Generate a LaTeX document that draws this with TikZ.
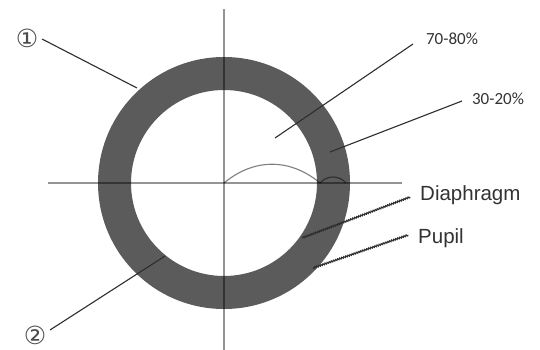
\documentclass[tikz,border=0pt]{standalone}
\usepackage{fontspec}
\setmainfont{Liberation Sans}
\newfontfamily\symfont{DejaVu Sans}
\newfontfamily\pctfont{Carlito}
\usetikzlibrary{decorations.pathmorphing}
\definecolor{ringc}{HTML}{5B5B5B}
\definecolor{leadc}{HTML}{2E2E2E}
\begin{document}
\begin{tikzpicture}[x=1pt,y=-1pt,
  axis/.style={line width=1.6pt, black, draw opacity=0.42},
  arcline/.style={line width=1.1pt, black, draw opacity=0.5},
  leader/.style={line width=1.1pt, leadc},
  wavy/.style={line width=1.1pt, leadc, decorate, decoration={snake, amplitude=0.7pt, segment length=2.2pt}},
  num/.style={font=\symfont\fontsize{25}{25}\selectfont, text=black!70, inner sep=0pt},
  pct/.style={font=\pctfont\fontsize{17}{17}\selectfont, text=black!80, inner sep=0pt},
  lab/.style={font=\fontsize{20.5}{20.5}\selectfont, text=black!80, inner sep=0pt, anchor=west}]
\useasboundingbox (0,0) rectangle (540,350);
\fill[white] (0,0) rectangle (540,350);
% ring
\coordinate (c) at (224,183);
\fill[ringc, even odd rule] (c) circle[radius=126] (c) circle[radius=93];
% axes
\coordinate (vtop) at (224,9);
\coordinate (vbot) at (224,350);
\coordinate (hl) at (48,183);
\coordinate (hr) at (402,183);
\draw[axis] (vtop) -- (vbot);
\draw[axis] (hl) -- (hr);
% arcs
\coordinate (a1) at (320,183);
\coordinate (a2) at (346,183);
\draw[arcline] (c) .. controls (254,158) and (290,158) .. (a1);
\draw[arcline] (a1) .. controls (327,175) and (339,175) .. (a2);
% labels
\node[num] (n1) at (27,38) {①};
\node[num] (n2) at (35,335) {②};
\node[pct] (t1) at (452,39) {70-80\%};
\node[pct] (t2) at (498,99) {30-20\%};
\node[lab] (d) at (420,195) {Diaphragm};
\node[lab] (p) at (418,238) {Pupil};
% leader end points
\coordinate (s1) at (42,39);
\coordinate (e1) at (137,88);
\coordinate (s2) at (50,330);
\coordinate (e2) at (165,256);
\coordinate (s3) at (413,44);
\coordinate (e3) at (275,138);
\coordinate (s4) at (462,101);
\coordinate (e4) at (330,152);
\coordinate (s5) at (410,197);
\coordinate (e5) at (302,238);
\coordinate (s6) at (408,235);
\coordinate (e6) at (313,268);
\draw[leader] (s1) -- (e1);
\draw[leader] (s2) -- (e2);
\draw[leader] (s3) -- (e3);
\draw[leader] (s4) -- (e4);
\draw[wavy] (s5) -- (e5);
\draw[wavy] (s6) -- (e6);
\end{tikzpicture}
\end{document}
